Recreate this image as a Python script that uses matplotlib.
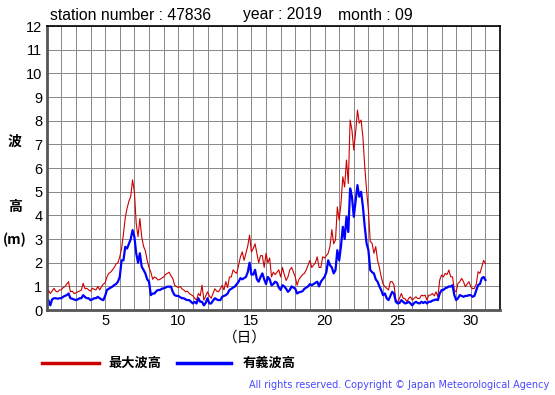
import numpy as np
import matplotlib
matplotlib.use("Agg")
import matplotlib.pyplot as plt

plt.rcParams['font.family'] = ['Liberation Sans', 'Noto Sans CJK JP', 'DejaVu Sans']

station = "47836"
year = "2019"
month = "09"

# 3-hourly values, day 1 00h .. day 31 00h
hmax = [
    0.5, 0.85, 0.7, 0.8, 0.92, 0.8, 0.77, 0.85,      # 1
    0.85, 0.95, 0.99, 1.1, 1.2, 0.77, 0.8, 0.7,      # 2
    0.72, 0.77, 0.8, 0.85, 1.13, 0.9, 0.92, 0.85,    # 3
    0.8, 0.92, 0.88, 0.85, 1.0, 0.85, 0.99, 1.1,     # 4
    1.15, 1.4, 1.55, 1.6, 1.7, 1.8, 1.95, 2.0,       # 5
    2.25, 2.6, 3.2, 3.9, 4.3, 4.6, 4.8, 5.5,         # 6
    5.0, 3.66, 3.1, 3.87, 3.1, 2.7, 2.5, 2.1,        # 7
    1.8, 1.6, 1.3, 1.4, 1.35, 1.27, 1.3, 1.35,       # 8
    1.4, 1.5, 1.55, 1.6, 1.45, 1.34, 1.05, 1.0,      # 9
    0.95, 1.0, 0.9, 0.85, 0.77, 0.8, 0.7, 0.65,      # 10
    0.6, 0.5, 0.42, 0.7, 0.6, 1.05, 0.42, 0.6,       # 11
    0.77, 0.6, 0.5, 0.7, 0.9, 0.8, 0.77, 0.9,        # 12
    1.05, 0.85, 1.2, 0.95, 1.4, 1.4, 1.7, 1.6,       # 13
    1.55, 1.9, 2.25, 2.46, 2.1, 2.4, 2.7, 3.17,      # 14
    2.45, 2.6, 2.8, 2.4, 2.0, 2.3, 2.3, 1.8,         # 15
    2.4, 2.0, 2.2, 1.4, 1.6, 1.5, 1.6, 1.7,          # 16
    1.4, 1.8, 1.5, 1.25, 1.4, 1.7, 1.8, 1.6,         # 17
    1.4, 1.05, 1.3, 1.4, 1.5, 1.55, 1.7, 1.9,        # 18
    2.1, 1.8, 1.9, 2.0, 2.25, 1.8, 1.8, 2.25,        # 19
    2.2, 2.3, 2.4, 2.7, 3.4, 2.8, 2.96, 4.36,        # 20
    3.8, 4.5, 5.63, 5.2, 6.34, 5.35, 8.03, 7.6,      # 21
    6.76, 7.5, 8.45, 7.9, 8.03, 7.3, 6.05, 5.07,     # 22
    4.2, 2.9, 2.82, 2.4, 2.68, 2.1, 1.8, 1.41,       # 23
    1.1, 0.99, 0.92, 0.85, 1.2, 1.2, 1.05, 0.42,     # 24
    0.35, 0.49, 0.7, 0.5, 0.49, 0.35, 0.49, 0.56,    # 25
    0.42, 0.5, 0.56, 0.49, 0.49, 0.63, 0.6, 0.63,    # 26
    0.42, 0.63, 0.63, 0.7, 0.6, 0.77, 0.56, 1.27,    # 27
    1.48, 1.4, 1.55, 1.5, 1.69, 1.41, 1.4, 0.84,     # 28
    0.77, 1.13, 1.2, 1.34, 1.2, 0.99, 1.1, 1.2,      # 29
    0.99, 0.9, 0.92, 1.1, 1.62, 1.55, 1.83, 2.1,     # 30
    1.97,
]

hsig = [
    0.3, 0.42, 0.2, 0.45, 0.5, 0.5, 0.48, 0.5,       # 1
    0.5, 0.56, 0.6, 0.63, 0.7, 0.5, 0.48, 0.45,      # 2
    0.42, 0.45, 0.5, 0.5, 0.63, 0.55, 0.5, 0.5,      # 3
    0.42, 0.45, 0.5, 0.5, 0.56, 0.5, 0.45, 0.42,     # 4
    0.6, 0.85, 0.9, 0.95, 0.99, 1.06, 1.1, 1.2,      # 5
    1.4, 2.1, 2.1, 2.67, 2.6, 2.8, 3.0, 3.38,        # 6
    3.1, 2.4, 2.0, 2.4, 1.83, 1.7, 1.55, 1.3,        # 7
    1.2, 0.63, 0.7, 0.7, 0.8, 0.85, 0.85, 0.9,       # 8
    0.92, 0.95, 0.99, 0.99, 0.99, 0.77, 0.63, 0.6,   # 9
    0.6, 0.55, 0.5, 0.5, 0.45, 0.42, 0.42, 0.35,     # 10
    0.28, 0.35, 0.28, 0.5, 0.35, 0.35, 0.2, 0.3,     # 11
    0.5, 0.28, 0.28, 0.4, 0.5, 0.45, 0.42, 0.42,     # 12
    0.56, 0.6, 0.63, 0.7, 0.85, 0.9, 0.95, 1.0,      # 13
    1.1, 1.2, 1.35, 1.3, 1.35, 1.4, 1.6, 2.0,        # 14
    1.5, 1.5, 1.7, 1.3, 1.2, 1.4, 1.55, 1.3,         # 15
    1.1, 1.4, 1.3, 1.05, 1.1, 1.2, 1.15, 0.95,       # 16
    0.85, 1.05, 1.0, 0.9, 0.77, 0.85, 1.0, 0.95,     # 17
    0.9, 0.7, 0.75, 0.77, 0.8, 0.9, 0.95, 1.0,       # 18
    1.1, 1.05, 1.1, 1.15, 1.2, 1.0, 1.2, 1.3,        # 19
    1.4, 1.6, 2.1, 1.9, 1.8, 1.55, 1.69, 2.53,       # 20
    2.1, 2.7, 3.52, 3.0, 3.94, 3.3, 5.14, 4.79,      # 21
    3.94, 4.6, 5.28, 4.79, 5.0, 4.36, 3.52, 2.82,    # 22
    2.53, 1.69, 1.6, 1.55, 1.3, 1.2, 1.0, 0.84,      # 23
    0.63, 0.7, 0.5, 0.42, 0.6, 0.77, 0.7, 0.35,      # 24
    0.28, 0.3, 0.42, 0.35, 0.28, 0.3, 0.35, 0.28,    # 25
    0.2, 0.3, 0.35, 0.3, 0.28, 0.35, 0.3, 0.35,      # 26
    0.28, 0.35, 0.35, 0.4, 0.42, 0.45, 0.42, 0.7,    # 27
    0.84, 0.85, 0.92, 0.95, 1.0, 0.99, 1.05, 0.63,   # 28
    0.42, 0.5, 0.63, 0.6, 0.56, 0.6, 0.6, 0.63,      # 29
    0.63, 0.56, 0.6, 0.84, 1.06, 1.1, 1.34, 1.4,     # 30
    1.27,
]

xticks = [5, 10, 15, 20, 25, 30]
yticks = list(range(0, 13))

t = 1 + np.arange(len(hmax)) * 3 / 24

fig = plt.figure(figsize=(5.55, 3.95), dpi=100)
ax = fig.add_axes([0.084, 0.215, 0.817, 0.719])

ax.plot(t, hmax, color="#cc0000", lw=0.8)
ax.plot(t, hsig, color="#0000ff", lw=1.6)

ax.set_xlim(1, 32)
ax.set_ylim(0, 12)
ax.set_xticks(range(1, 33), minor=True)
ax.set_xticks(xticks)
ax.set_yticks(yticks)
ax.grid(True, which="both", color="#888888", lw=0.7)
ax.tick_params(which="both", length=0, labelsize=10.5, pad=3)

for s in ["left", "bottom"]:
    ax.spines[s].set_color("#555555")
    ax.spines[s].set_linewidth(2)
for s in ["top", "right"]:
    ax.spines[s].set_color("black")
    ax.spines[s].set_linewidth(1.2)

fig.text(50 / 555, 1 - 15 / 395, "station number : " + station, fontsize=11.3, va="center")
fig.text(243 / 555, 1 - 15 / 395, "year : " + year, fontsize=11.3, va="center")
fig.text(338 / 555, 1 - 15 / 395, "month : " + month, fontsize=11.3, va="center")

cjk = ['Noto Sans CJK JP', 'DejaVu Sans']
fig.text(15 / 555, 1 - 142 / 395, "波", fontsize=10, ha="center", va="center", family=cjk, weight="bold")
fig.text(15 / 555, 1 - 207 / 395, "高", fontsize=10, ha="center", va="center", family=cjk, weight="bold")
fig.text(15 / 555, 1 - 240 / 395, "(m)", fontsize=10, ha="center", va="center", family=cjk, weight="bold")
fig.text(245 / 555, 1 - 338 / 395, "（日）", fontsize=10.5, ha="center", va="center", family=cjk)

# legend
fig.add_artist(plt.Line2D([42 / 555, 99 / 555], [1 - 363 / 395] * 2, color="#cc0000", lw=2.5))
fig.text(108 / 555, 1 - 363 / 395, "最大波高", fontsize=9.5, va="center", family=cjk, weight="bold")
fig.add_artist(plt.Line2D([177 / 555, 231 / 555], [1 - 363 / 395] * 2, color="#0000ff", lw=2.5))
fig.text(243 / 555, 1 - 363 / 395, "有義波高", fontsize=9.5, va="center", family=cjk, weight="bold")

fig.text(549 / 555, 1 - 385 / 395, "All rights reserved. Copyright © Japan Meteorological Agency",
         fontsize=7, color="#4848ff", ha="right", va="center", family="DejaVu Sans")

fig.savefig("out.png", dpi=100)
